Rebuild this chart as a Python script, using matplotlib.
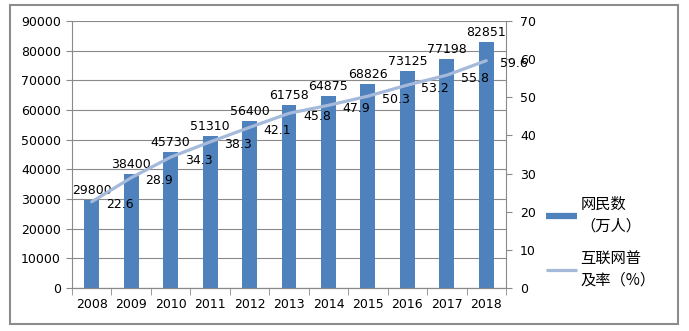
import matplotlib
matplotlib.use("Agg")
import matplotlib.pyplot as plt
from matplotlib.lines import Line2D
from matplotlib.patches import Rectangle
import numpy as np

plt.rcParams['font.family'] = ['DejaVu Sans', 'Noto Sans CJK SC']

years = ["2008", "2009", "2010", "2011", "2012", "2013", "2014", "2015", "2016", "2017", "2018"]
netizens = [29800, 38400, 45730, 51310, 56400, 61758, 64875, 68826, 73125, 77198, 82851]
penetration = [22.6, 28.9, 34.3, 38.3, 42.1, 45.8, 47.9, 50.3, 53.2, 55.8, 59.6]
bar_label = "网民数\n（万人）"
line_label = "互联网普\n及率（%）"

bar_color = "#4F81BD"
line_color = "#A5B9DB"
grid_color = "#8A8A8A"

fig = plt.figure(figsize=(6.89, 3.31), dpi=100)
fig.patch.set_facecolor("white")
ax = fig.add_axes([72/689, 1-288/331, (506-72)/689, (288-21)/331])
ax2 = ax.twinx()

x = np.arange(len(years))
bars = ax.bar(x, netizens, width=0.38, color=bar_color, zorder=2)
ax.set_xlim(-0.5, len(years)-0.5)
ax.set_ylim(0, 90000)
ax.set_yticks(np.arange(0, 90001, 10000))
ax.yaxis.grid(True, color=grid_color, lw=0.8, zorder=0)
ax.set_axisbelow(True)
ax.set_xticks(x)
ax.set_xticklabels(years, fontsize=9)
ax.set_xticks(np.arange(-0.5, len(years), 1), minor=True)
ax.tick_params(axis='x', which='major', length=0, pad=7)
ax.tick_params(axis='x', which='minor', length=5, color=grid_color, direction='out')
ax.tick_params(axis='y', labelsize=9, length=4, color=grid_color, pad=4)

for xi, v in zip(x, netizens):
    ax.annotate(str(v), (xi, v), xytext=(0, 3), textcoords='offset pixels',
                ha='center', va='bottom', fontsize=9, zorder=5)

ax2.plot(x, penetration, color=line_color, lw=2.3, zorder=3, solid_capstyle='round')
ax2.set_ylim(0, 70)
ax2.set_yticks(np.arange(0, 71, 10))
ax2.tick_params(axis='y', labelsize=9, length=4, color=grid_color, pad=6)
for xi, v in zip(x, penetration):
    ax2.annotate(f"{v}", (xi, v), xytext=(14, -3), textcoords='offset pixels',
                 ha='left', va='center', fontsize=9, zorder=5)

for a in (ax, ax2):
    a.spines['top'].set_visible(False)
    a.spines['left'].set_color(grid_color)
    a.spines['right'].set_color(grid_color)
    a.spines['bottom'].set_color(grid_color)
ax.spines['right'].set_visible(False)
ax2.spines['left'].set_visible(False)

handles = [Line2D([], [], color=bar_color, lw=4.5, solid_capstyle='butt'),
           Line2D([], [], color=line_color, lw=2.3, solid_capstyle='butt')]
leg = fig.legend(handles, [bar_label, line_label], loc='upper left',
                 bbox_to_anchor=(546/689, 1-196/331), frameon=False,
                 prop={'family': ['Noto Sans CJK SC'], 'size': 11},
                 handlelength=2.0, handletextpad=0.25, labelspacing=1.0,
                 borderaxespad=0, borderpad=0)
for t in leg.get_texts():
    t.set_linespacing(1.35)

fig.add_artist(Rectangle((10/689, 1-324/331), 668/689, 319/331,
                         transform=fig.transFigure, fill=False,
                         edgecolor="#8C8C8C", lw=1.5))

fig.savefig("out.png", dpi=100)
